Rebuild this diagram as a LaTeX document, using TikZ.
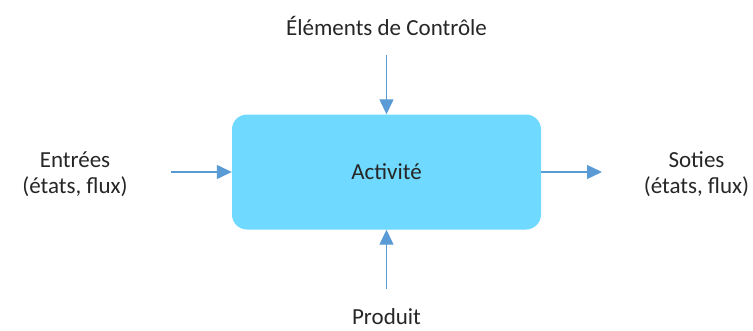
\documentclass[tikz,border=0pt]{standalone}
\usepackage{fontspec}
\setmainfont{Carlito}
\usetikzlibrary{arrows.meta}
\definecolor{boxfill}{HTML}{6FD9FF}
\definecolor{arrowblue}{HTML}{5B9BD5}
\definecolor{txt}{HTML}{262626}
\tikzset{
  actbox/.style={draw=none, fill=boxfill, rounded corners=15pt, minimum width=309pt, minimum height=115pt, inner sep=0pt},
  lbl/.style={text=txt, font=\fontsize{23}{26}\selectfont, align=center, inner sep=0pt, anchor=base},
  flow/.style={draw=arrowblue, line width=1.3pt, -{Triangle[length=15pt,width=14pt]}}
}
\begin{document}
\begin{tikzpicture}[x=1pt,y=-1pt]
\useasboundingbox (0,0) rectangle (753,330);
\node[actbox] (act) at (386.5,172) {};
\node[lbl] (actl) at (386.5,179) {Activité};
\node[lbl] (ctrl) at (386.5,35) {Éléments de Contrôle};
\node[lbl] (in) at (75,193) {Entrées\\(états, flux)};
\node[lbl] (out) at (696.5,193) {Soties\\(états, flux)};
\node[lbl] (prod) at (386.5,324) {Produit};
\coordinate (ctrlS) at (386.5,55);
\coordinate (inE) at (171,172);
\coordinate (outE) at (602,172);
\coordinate (prodN) at (386.5,289);
\draw[flow] (ctrlS) -- (act.north);
\draw[flow] (inE) -- (act.west);
\draw[flow] (act.east) -- (outE);
\draw[flow] (prodN) -- (act.south);
\end{tikzpicture}
\end{document}
